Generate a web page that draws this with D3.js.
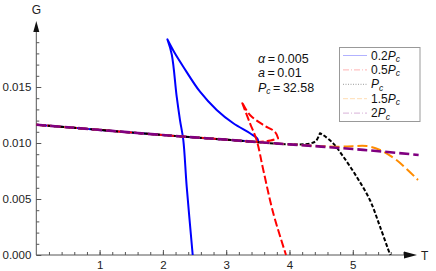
<!DOCTYPE html>
<html>
<head>
<meta charset="utf-8">
<script src="https://cdn.jsdelivr.net/npm/d3@7"></script>
<style>
  body { margin: 0; background: #fff; }
  svg { display: block; font-family: 'Liberation Sans', Arial, sans-serif; }
</style>
</head>
<body>
<div id="chart"></div>
<script>
// values (T, G); *Cusps = indices where the curve turns sharply
const mainT = [0, 0.5, 1, 1.5, 2, 2.5, 3, 3.5, 4, 4.5, 5, 5.5, 6.04];
const mainG = [0.01163, 0.0114, 0.01117, 0.01094, 0.01071, 0.0105, 0.0103, 0.01008, 0.00988, 0.00968, 0.00946, 0.00922, 0.00893];

const blueT = [0, 1, 2, 2.5, 3, 3.3, 3.507, 3.49, 3.376, 3.112, 2.85, 2.586, 2.322, 2.18, 2.07, 2.14, 2.218, 2.27, 2.322, 2.376, 2.471];
const blueG = [0.01163, 0.01117, 0.01071, 0.0105, 0.0103, 0.01018, 0.0101, 0.01042, 0.01087, 0.01176, 0.01295, 0.01458, 0.01681, 0.0181, 0.01926, 0.0179, 0.01413, 0.01205, 0.01027, 0.0061, 0];
const blueCusps = [6, 14];

const redT = [0, 1, 2, 3, 3.507, 3.7, 3.82, 3.77, 3.586, 3.376, 3.245, 3.376, 3.48, 3.586, 3.744, 3.945];
const redG = [0.01163, 0.01117, 0.01071, 0.0103, 0.0101, 0.01022, 0.01042, 0.011, 0.01161, 0.0125, 0.01369, 0.01176, 0.01027, 0.00759, 0.00372, 0];
const redCusps = [6, 10];

const blackT = [0, 1, 2, 3, 4, 4.32, 4.42, 4.48, 4.53, 4.69, 4.85, 5.06, 5.27, 5.43, 5.59];
const blackG = [0.01163, 0.01117, 0.01071, 0.0103, 0.00988, 0.00995, 0.0102, 0.01087, 0.01072, 0.00997, 0.00878, 0.00699, 0.00491, 0.00253, 0];
const blackCusps = [7];

const orangeT = [0, 1, 2, 3, 4, 4.5, 4.8, 5.0, 5.22, 5.43, 5.69, 6.03];
const orangeG = [0.01163, 0.01117, 0.01071, 0.0103, 0.00988, 0.00972, 0.00967, 0.00972, 0.00973, 0.00938, 0.00848, 0.0067];

const purpleT = mainT;
const purpleG = mainG;

const legendLabels = ['0.2', '0.5', '', '1.5', '2'];
const yMajor = [0, 0.005, 0.01, 0.015];
const xMajor = [1, 2, 3, 4, 5];

const size = { width: 436, height: 271 };

const svg = d3.select('#chart')
  .append('svg')
  .attr('width', size.width)
  .attr('height', size.height);

const x = d3.scaleLinear().domain([0, 6]).range([36.3, 416.1]);
const y = d3.scaleLinear().domain([0, 0.02]).range([255, 31]);

const axisColor = '#555';

// minor ticks
svg.append('g')
  .attr('transform', `translate(${x(0)},0)`)
  .call(d3.axisLeft(y).tickValues(d3.range(1, 20).map((d) => d / 1000)).tickSize(-3).tickFormat(''))
  .call((g) => g.select('.domain').remove())
  .selectAll('line').attr('stroke', axisColor);

svg.append('g')
  .attr('transform', `translate(0,${y(0)})`)
  .call(d3.axisBottom(x).tickValues(d3.range(1, 30).map((d) => d / 5)).tickSize(-3).tickFormat(''))
  .call((g) => g.select('.domain').remove())
  .selectAll('line').attr('stroke', axisColor);

// major ticks + labels
const yAxis = svg.append('g')
  .attr('transform', `translate(${x(0)},0)`)
  .call(d3.axisLeft(y).tickValues(yMajor).tickSize(-5).tickPadding(5).tickFormat(d3.format('.3f')));
yAxis.select('.domain').remove();
yAxis.selectAll('line').attr('stroke', axisColor);
yAxis.selectAll('text').attr('fill', '#222').style('font-size', '11.5px').style('font-family', 'Liberation Sans, Arial, sans-serif');

const xAxis = svg.append('g')
  .attr('transform', `translate(0,${y(0)})`)
  .call(d3.axisBottom(x).tickValues(xMajor).tickSize(-5).tickPadding(6).tickFormat(d3.format('d')));
xAxis.select('.domain').remove();
xAxis.selectAll('line').attr('stroke', axisColor);
xAxis.selectAll('text').attr('fill', '#222').style('font-size', '11.5px').style('font-family', 'Liberation Sans, Arial, sans-serif');

// axis lines with arrows
svg.append('line')
  .attr('x1', x(0)).attr('x2', x(0))
  .attr('y1', y(0)).attr('y2', 30)
  .attr('stroke', axisColor);
svg.append('path')
  .attr('d', `M${x(0)},21 L${x(0) - 3},32 L${x(0) + 3},32 Z`)
  .attr('fill', '#111');
svg.append('line')
  .attr('x1', x(0)).attr('x2', 406)
  .attr('y1', y(0)).attr('y2', y(0))
  .attr('stroke', axisColor);
svg.append('path')
  .attr('d', `M417,${y(0)} L404,${y(0) - 3.5} L404,${y(0) + 3.5} Z`)
  .attr('fill', '#111');

svg.append('text').attr('x', x(0)).attr('y', 14).attr('text-anchor', 'middle')
  .attr('font-size', 12).attr('fill', '#222').text('G');
svg.append('text').attr('x', 421).attr('y', y(0) + 4.5)
  .attr('font-size', 12).attr('fill', '#222').text('T');

// curves
const series = [
  { T: blueT, G: blueG, cusps: blueCusps, color: '#0000ff', width: 2, dash: null, lDash: null },
  { T: redT, G: redG, cusps: redCusps, color: '#ff0000', width: 2, dash: '8,3', lDash: '6,2,1,2' },
  { T: blackT, G: blackG, cusps: blackCusps, color: '#000000', width: 2, dash: '4,2', lDash: '1,1.5' },
  { T: orangeT, G: orangeG, cusps: [], color: '#ff8c00', width: 2, dash: '10,4', lDash: '5,2' },
  { T: purpleT, G: purpleG, cusps: [], color: '#800080', width: 2.6, dash: '10,4', lDash: '6,2,1,2' },
];

const line = d3.line()
  .x((d) => x(d[0]))
  .y((d) => y(d[1]))
  .curve(d3.curveCatmullRom.alpha(0.5));

// smooth between cusps, sharp at cusps, one path so the dashes run on
const curvePath = (s) => {
  const pts = d3.zip(s.T, s.G);
  const cuts = [0, ...s.cusps, pts.length - 1];
  return d3.pairs(cuts)
    .map(([a, b], i) => {
      const d = line(pts.slice(a, b + 1));
      return i === 0 ? d : 'L' + d.slice(1);
    })
    .join('');
};

series.forEach((s) => {
  svg.append('path')
    .attr('d', curvePath(s))
    .attr('fill', 'none')
    .attr('stroke', s.color)
    .attr('stroke-width', s.width)
    .attr('stroke-linejoin', 'round')
    .attr('stroke-dasharray', s.dash);
});

// parameters
const note = svg.append('g').attr('font-size', 12.5).attr('fill', '#111');
const noteRows = [
  { sym: 'α', sub: '', val: '0.005' },
  { sym: 'a', sub: '', val: '0.01' },
  { sym: 'P', sub: 'c', val: '32.58' },
];
noteRows.forEach((r, i) => {
  const t = note.append('text').attr('x', 258).attr('y', 63 + i * 14.3);
  t.append('tspan').attr('font-style', 'italic').text(r.sym);
  if (r.sub) t.append('tspan').attr('font-style', 'italic').attr('font-size', 8.5).attr('dy', 2.5).text(r.sub);
  t.append('tspan').attr('dy', r.sub ? -2.5 : 0).text('\u2009=\u2009' + r.val);
});

// legend
const legend = svg.append('g');
legend.append('rect')
  .attr('x', 339.5).attr('y', 47.5)
  .attr('width', 80.5).attr('height', 74)
  .attr('fill', '#fff')
  .attr('stroke', '#999');

series.forEach((s, i) => {
  const ly = 55.5 + i * 14.4;
  legend.append('line')
    .attr('x1', 343).attr('x2', 367)
    .attr('y1', ly).attr('y2', ly)
    .attr('stroke', s.color)
    .attr('stroke-opacity', s.color === '#000000' ? 0.4 : 0.3)
    .attr('stroke-width', 1)
    .attr('stroke-dasharray', s.lDash);
  const t = legend.append('text')
    .attr('x', 371).attr('y', ly + 4)
    .attr('font-size', 12).attr('fill', '#111');
  t.append('tspan').text(legendLabels[i]);
  t.append('tspan').attr('font-style', 'italic').text('P');
  t.append('tspan').attr('font-style', 'italic').attr('font-size', 8.5).attr('dy', 2.5).text('c');
});
</script>
</body>
</html>
